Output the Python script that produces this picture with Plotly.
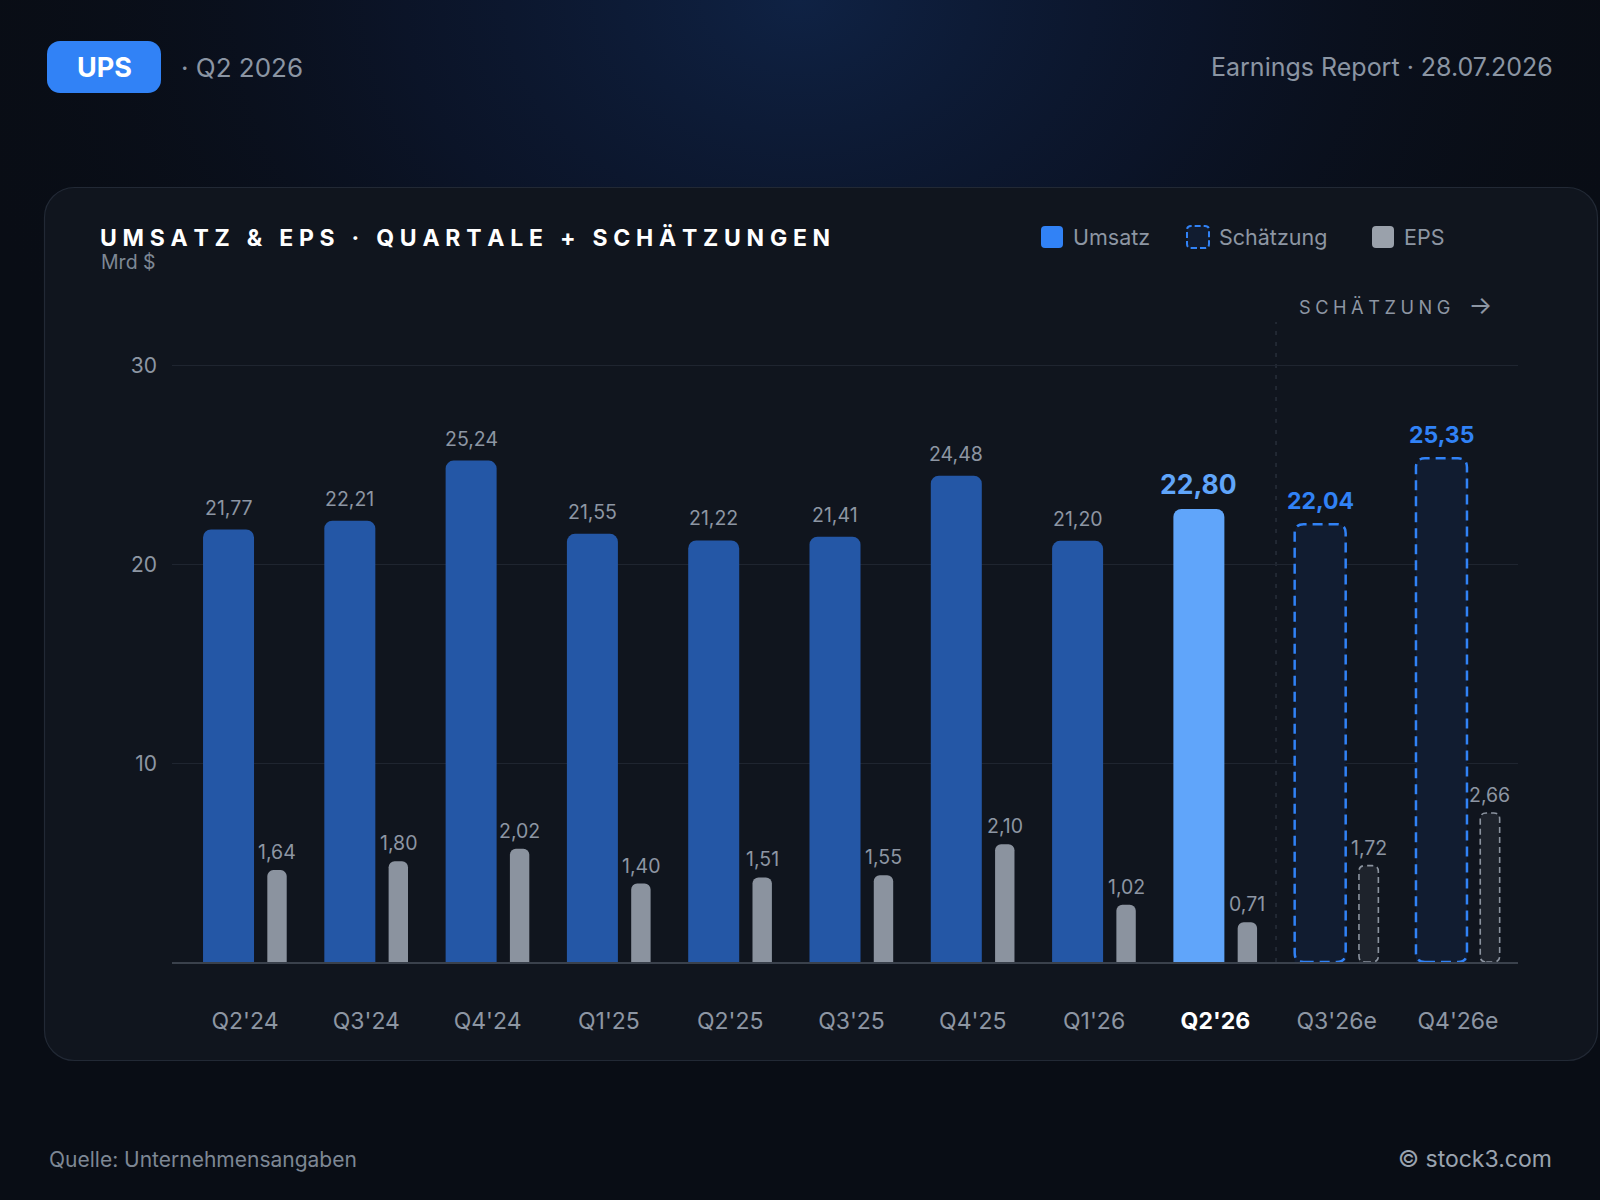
import base64
import plotly.graph_objects as go

# ---------------- data ----------------
quarters = ["Q2'24", "Q3'24", "Q4'24", "Q1'25", "Q2'25", "Q3'25", "Q4'25", "Q1'26", "Q2'26", "Q3'26e", "Q4'26e"]
revenue = [21.77, 22.21, 25.24, 21.55, 21.22, 21.41, 24.48, 21.20, 22.80, 22.04, 25.35]
eps = [1.64, 1.80, 2.02, 1.40, 1.51, 1.55, 2.10, 1.02, 0.71, 1.72, 2.66]
status = ["actual"] * 8 + ["current"] + ["estimate"] * 2
y_ticks = [10, 20, 30]

# ---------------- layout geometry ----------------
W, H = 1600, 1200
PL, PR, PT, PB = 172, 1518, 300, 962
X_RANGE = [-0.602, 10.495]
PX_PER_Y = 19.867
Y_MAX = (PB - PT) / PX_PER_Y
EPS_SCALE = 2.82
Y2_MAX = Y_MAX / EPS_SCALE
PX_PER_X = (PR - PL) / (X_RANGE[1] - X_RANGE[0])

REV_OFF, REV_W = -0.3462, 0.4205
EPS_OFF, EPS_W = 0.1838, 0.16

FONT = "Inter, 'Noto Sans', sans-serif"
GRAY = "#8d96a3"
BLUE_ACT = "#2457a6"
BLUE_CUR = "#60a5fa"
BLUE_EST = "#3182f6"


def px2x(px):
    return (px - PL) / (PR - PL)


def py2y(py):
    return (PB - py) / (PB - PT)


def de(v):
    return f"{v:.2f}".replace(".", ",")


def spaced(s, sep):
    return sep.join(list(s))


def rrect_path(x0, x1, y0, y1, rx, ry):
    return (f"M {x0+rx},{y0} L {x1-rx},{y0} Q {x1},{y0} {x1},{y0+ry} "
            f"L {x1},{y1-ry} Q {x1},{y1} {x1-rx},{y1} L {x0+rx},{y1} "
            f"Q {x0},{y1} {x0},{y1-ry} L {x0},{y0+ry} Q {x0},{y0} {x0+rx},{y0} Z")


# ---------------- background svg ----------------
svg = f"""<svg xmlns='http://www.w3.org/2000/svg' width='{W}' height='{H}' viewBox='0 0 {W} {H}'>
<defs>
<radialGradient id='g' cx='0.5' cy='0' r='0.55'>
<stop offset='0' stop-color='#0f2244' stop-opacity='1'/>
<stop offset='0.45' stop-color='#0c1730' stop-opacity='0.7'/>
<stop offset='1' stop-color='#090d15' stop-opacity='0'/>
</radialGradient>
</defs>
<rect width='{W}' height='{H}' fill='#090d15'/>
<rect width='{W}' height='{H}' fill='url(#g)'/>
<rect x='44.5' y='187.5' width='1553' height='873' rx='30' ry='30' fill='#10151e' stroke='#222935' stroke-width='1.2'/>
<rect x='47' y='41' width='114' height='52' rx='13' ry='13' fill='#3182f6'/>
</svg>"""
svg_uri = "data:image/svg+xml;base64," + base64.b64encode(svg.encode()).decode()

fig = go.Figure()

idx = list(range(len(quarters)))
rev_colors = [BLUE_ACT if s == "actual" else BLUE_CUR if s == "current" else "#111c30" for s in status]
eps_colors = ["#8b939f" if s != "estimate" else "#1e232c" for s in status]

fig.add_trace(go.Bar(
    x=idx, y=revenue, offset=REV_OFF, width=REV_W,
    marker=dict(color=rev_colors, line=dict(width=0), cornerradius=8),
    name="Umsatz", showlegend=False, yaxis="y", hoverinfo="skip",
))
fig.add_trace(go.Bar(
    x=idx, y=eps, offset=EPS_OFF, width=EPS_W,
    marker=dict(color=eps_colors, line=dict(width=0), cornerradius=6),
    name="EPS", showlegend=False, yaxis="y2", hoverinfo="skip",
))

shapes = []
annotations = []

# dashed outlines for estimates
for i, s in enumerate(status):
    if s != "estimate":
        continue
    x0 = i + REV_OFF
    x1 = x0 + REV_W
    shapes.append(dict(
        type="path", xref="x", yref="y",
        path=rrect_path(x0, x1, 0, revenue[i], 9 / PX_PER_X, 9 / PX_PER_Y),
        line=dict(color=BLUE_EST, width=2.5, dash="10px,6px"), fillcolor="rgba(0,0,0,0)", layer="above",
    ))
    e0 = i + EPS_OFF
    e1 = e0 + EPS_W
    shapes.append(dict(
        type="path", xref="x", yref="y2",
        path=rrect_path(e0, e1, 0, eps[i], 6 / PX_PER_X, 6 / (PX_PER_Y * EPS_SCALE)),
        line=dict(color="#8b939f", width=1.6, dash="6px,4px"), fillcolor="rgba(0,0,0,0)", layer="above",
    ))

# value labels
for i, s in enumerate(status):
    cx = i + REV_OFF + REV_W / 2
    if s == "actual":
        txt, size, col, shift = de(revenue[i]), 19.5, GRAY, 22
    elif s == "current":
        txt, size, col, shift = f"<b>{de(revenue[i])}</b>", 26.5, BLUE_CUR, 25
    else:
        txt, size, col, shift = f"<b>{de(revenue[i])}</b>", 23, BLUE_EST, 23
    annotations.append(dict(x=cx, y=revenue[i], xref="x", yref="y", text=txt, showarrow=False,
                            yanchor="middle", xanchor="center", yshift=shift,
                            font=dict(family=FONT, size=size, color=col)))
    ex = i + EPS_OFF + EPS_W / 2
    annotations.append(dict(x=ex, y=eps[i], xref="x", yref="y2", text=de(eps[i]), showarrow=False,
                            yanchor="middle", xanchor="center", yshift=18,
                            font=dict(family=FONT, size=19.5, color=GRAY)))

# separator between actuals and estimates
first_est = status.index("estimate")
shapes.append(dict(type="line", xref="x", yref="paper", x0=first_est - 0.5, x1=first_est - 0.5,
                   y0=0, y1=py2y(322), line=dict(color="#2e3541", width=1.2, dash="4px,7px"), layer="below"))

# header
annotations += [
    dict(x=px2x(104), y=py2y(67), xref="paper", yref="paper", text="<b>UPS</b>", showarrow=False,
         xanchor="center", yanchor="middle", font=dict(family=FONT, size=27, color="#ffffff")),
    dict(x=px2x(179), y=py2y(67), xref="paper", yref="paper", text="· Q2 2026", showarrow=False,
         xanchor="left", yanchor="middle", font=dict(family=FONT, size=26, color="#8b95a3")),
    dict(x=px2x(1555), y=py2y(67), xref="paper", yref="paper", text="Earnings Report · 28.07.2026",
         showarrow=False, xanchor="right", yanchor="middle", font=dict(family=FONT, size=25, color="#8b95a3")),
    dict(x=px2x(98), y=py2y(238), xref="paper", yref="paper",
         text="<b>" + spaced("UMSATZ & EPS · QUARTALE + SCHÄTZUNGEN", "\u2005") + "</b>",
         showarrow=False, xanchor="left", yanchor="middle", font=dict(family=FONT, size=23, color="#ffffff")),
    dict(x=px2x(99), y=py2y(262), xref="paper", yref="paper", text="Mrd $", showarrow=False,
         xanchor="left", yanchor="middle", font=dict(family=FONT, size=19.5, color="#7d8794")),
    dict(x=px2x(1297), y=py2y(305), xref="paper", yref="paper",
         text=spaced("SCHÄTZUNG", "\u2005") + "\u2002\u2002<span style='font-size:25px'>→</span>",
         showarrow=False, xanchor="left", yanchor="middle", font=dict(family=FONT, size=18.2, color="#8d96a3")),
    dict(x=px2x(47), y=py2y(1159), xref="paper", yref="paper", text="Quelle: Unternehmensangaben",
         showarrow=False, xanchor="left", yanchor="middle", font=dict(family=FONT, size=21, color="#7d8794")),
    dict(x=px2x(1554), y=py2y(1159), xref="paper", yref="paper", text="© stock3.com",
         showarrow=False, xanchor="right", yanchor="middle", font=dict(family=FONT, size=23, color="#9aa3af")),
]

# legend
legend_items = [
    ("Umsatz", 1041, BLUE_EST, None, None),
    ("Schätzung", 1187, "#111c30", BLUE_EST, "6px,3px"),
    ("EPS", 1372, "#9aa1ab", None, None),
]
for label, lx, fill, lcol, dash in legend_items:
    r = 4
    x0, x1 = lx, lx + 22
    y0, y1 = 226, 248
    path = rrect_path(px2x(x0), px2x(x1), py2y(y1), py2y(y0), r / (PR - PL), r / (PB - PT))
    shapes.append(dict(type="path", xref="paper", yref="paper", path=path, fillcolor=fill,
                       line=dict(color=lcol if lcol else fill, width=2 if lcol else 0, dash=dash or "solid")))
    annotations.append(dict(x=px2x(lx + 30), y=py2y(237), xref="paper", yref="paper", text=label,
                            showarrow=False, xanchor="left", yanchor="middle",
                            font=dict(family=FONT, size=21.5, color="#8d96a3")))

ticktext = [f"<b><span style='color:#ffffff'>{q}</span></b>" if s == "current" else q
            for q, s in zip(quarters, status)]

fig.update_layout(
    width=W, height=H,
    margin=dict(l=PL, r=W - PR, t=PT, b=H - PB, autoexpand=False),
    paper_bgcolor="#090d15", plot_bgcolor="rgba(0,0,0,0)",
    barmode="overlay", showlegend=False,
    font=dict(family=FONT, color=GRAY),
    xaxis=dict(range=X_RANGE, tickvals=idx, ticktext=ticktext, showgrid=False, zeroline=False,
               showline=True, linecolor="#3a414c", linewidth=1.5, ticks="", ticklabelstandoff=38,
               tickfont=dict(family=FONT, size=23, color="#8d96a3"), fixedrange=True),
    yaxis=dict(range=[0, Y_MAX], tickvals=y_ticks, showgrid=True, gridcolor="#1f2530", gridwidth=1,
               zeroline=False, showline=False, ticks="", ticklabelstandoff=14,
               tickfont=dict(family=FONT, size=21, color="#8d96a3"), fixedrange=True),
    yaxis2=dict(range=[0, Y2_MAX], overlaying="y", side="right", showgrid=False, zeroline=False,
                showticklabels=False, showline=False, ticks="", fixedrange=True),
    shapes=shapes, annotations=annotations,
    images=[dict(source=svg_uri, xref="paper", yref="paper", x=px2x(0), y=py2y(0),
                 sizex=W / (PR - PL), sizey=H / (PB - PT), xanchor="left", yanchor="top",
                 sizing="stretch", layer="below")],
)

fig.write_html("out.html", config={"displayModeBar": False})
